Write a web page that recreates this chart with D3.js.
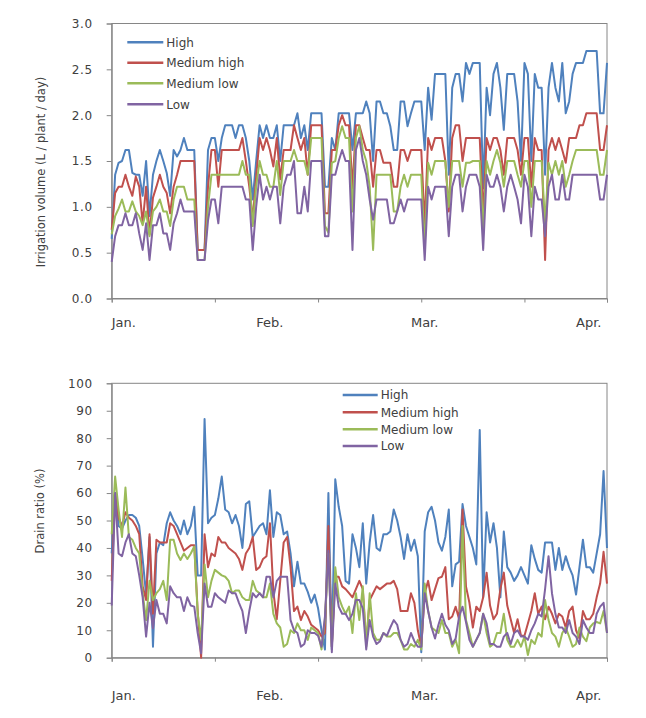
<!DOCTYPE html>
<html>
<head>
<meta charset="utf-8">
<script src="https://cdn.jsdelivr.net/npm/d3@7"></script>
<style>
  html, body { margin: 0; padding: 0; background: #fff; }
  svg { display: block; }
  text { font-family: "DejaVu Sans", sans-serif; fill: #404040; }
</style>
</head>
<body>
<svg id="chart" width="646" height="718"></svg>
<script>
// ---------- DATA ----------
const seriesNames = ["High", "Medium high", "Medium low", "Low"];
const monthLabels = ["Jan.", "Feb.", "Mar.", "Apr."];
const monthAt = [0, 42, 87, 135];          // category index where each month label starts
const categoryTicks = [0, 30, 60, 90, 120, 144];
const irrTicks = [0, 0.5, 1.0, 1.5, 2.0, 2.5, 3.0];
const drainTicks = [0, 10, 20, 30, 40, 50, 60, 70, 80, 90, 100];

// Irrigation volume (L / plant / day)
const irrHigh = [
 0.65,1.35,1.48,1.5,1.62,1.62,1.37,1.35,1.35,1.12,
 1.5,0.9,1.35,1.5,1.62,1.5,1.37,1.12,1.62,1.55,
 1.62,1.75,1.62,1.62,1.62,0.53,0.53,0.53,1.62,1.75,
 1.75,1.5,1.75,1.89,1.89,1.89,1.75,1.89,1.89,1.75,
 1.5,1.08,1.5,1.89,1.75,1.89,1.75,1.75,1.89,1.5,
 1.89,1.89,1.89,1.89,2.02,1.75,1.89,1.62,2.02,2.02,
 2.02,2.02,1.22,1.22,1.75,1.62,2.02,2.02,2.02,2.02,
 1.62,2.02,2.02,2.02,2.15,2.02,1.5,2.15,2.15,2.02,
 2.02,1.88,1.62,1.62,2.15,2.15,1.88,2.02,2.15,2.15,
 2.15,1.62,2.3,1.95,2.45,2.45,2.45,2.45,1.35,2.3,
 2.45,2.45,2.15,2.57,2.45,2.57,2.57,2.57,1.2,2.3,
 2.0,2.45,2.57,2.3,1.84,2.45,2.45,2.45,2.15,1.5,
 2.57,2.45,1.5,2.45,2.3,2.3,1.35,2.3,2.57,2.3,
 2.15,2.57,2.02,2.15,2.45,2.57,2.57,2.57,2.7,2.7,
 2.7,2.7,2.02,2.02,2.57];
const irrMedHigh = [
 0.75,1.15,1.22,1.22,1.35,1.22,1.12,1.33,1.22,0.82,
 1.22,0.7,1.1,1.22,1.35,1.22,1.15,0.93,1.22,1.35,
 1.5,1.5,1.5,1.5,1.5,0.53,0.53,0.53,1.22,1.62,
 1.62,1.22,1.62,1.62,1.62,1.62,1.62,1.62,1.75,1.5,
 1.22,0.86,1.33,1.75,1.62,1.75,1.62,1.44,1.75,1.3,
 1.62,1.62,1.62,1.89,1.75,1.62,1.75,1.35,1.89,1.89,
 1.89,1.89,0.93,0.93,1.62,1.62,1.89,2.0,1.89,1.89,
 1.2,1.89,1.89,1.75,1.62,1.62,1.22,1.62,1.62,1.48,
 1.48,1.48,1.22,1.22,1.62,1.62,1.5,1.62,1.62,1.62,
 1.62,0.8,1.75,1.62,1.75,1.75,1.75,1.5,0.95,1.75,
 1.89,1.89,1.5,1.75,1.75,1.75,1.75,1.75,0.9,1.75,
 1.62,1.75,1.75,1.62,1.35,1.75,1.75,1.75,1.62,1.35,
 1.75,1.75,1.22,1.75,1.62,1.62,0.42,1.62,1.75,1.62,
 1.75,1.62,1.48,1.75,1.75,1.75,1.89,1.89,2.02,2.02,
 2.02,2.02,1.62,1.62,1.89];
const irrMedLow = [
 0.7,0.9,0.98,1.08,0.95,0.95,1.06,0.95,0.9,0.8,
 0.95,0.68,0.95,1.0,1.08,0.95,0.95,0.79,1.08,1.22,
 1.22,1.22,1.08,1.08,1.08,0.42,0.42,0.42,1.0,1.35,
 1.35,1.35,1.35,1.35,1.35,1.35,1.35,1.35,1.5,1.35,
 1.35,0.79,1.22,1.5,1.35,1.35,1.22,1.22,1.5,1.13,
 1.5,1.5,1.5,1.62,1.5,1.5,1.5,1.35,1.75,1.75,
 1.75,1.75,0.79,0.72,1.48,1.5,1.75,1.88,1.75,1.75,
 0.95,1.75,1.88,1.62,1.5,1.22,0.53,1.35,1.35,1.35,
 1.35,1.35,0.95,0.95,1.22,1.35,1.22,1.35,1.35,1.35,
 1.35,0.55,1.48,1.35,1.5,1.5,1.5,1.5,1.0,1.5,
 1.5,1.5,1.22,1.48,1.48,1.5,1.5,1.5,0.75,1.5,
 1.35,1.5,1.62,1.48,1.22,1.5,1.5,1.5,1.35,1.22,
 1.5,1.5,1.0,1.5,1.5,1.5,0.8,1.48,1.35,1.5,
 1.35,1.5,1.22,1.35,1.5,1.62,1.62,1.62,1.62,1.62,
 1.62,1.62,1.35,1.35,1.62];
const irrLow = [
 0.4,0.68,0.8,0.8,0.93,0.8,0.8,0.93,0.71,0.53,
 0.82,0.42,0.8,0.8,0.93,0.71,0.71,0.53,0.82,0.93,
 1.08,0.95,0.95,0.95,0.95,0.42,0.42,0.42,0.85,1.08,
 1.08,0.82,1.22,1.22,1.22,1.22,1.22,1.22,1.22,1.08,
 1.08,0.53,1.0,1.35,1.08,1.22,1.08,1.22,1.22,0.82,
 1.22,1.35,1.35,1.5,0.93,0.93,1.22,0.95,1.5,1.5,
 1.5,1.5,0.68,0.68,1.35,1.35,1.5,1.62,1.5,1.5,
 0.53,1.62,1.75,1.5,1.35,1.08,0.86,1.08,1.08,1.08,
 1.08,0.82,0.82,0.95,1.08,0.95,1.08,1.08,1.08,1.08,
 1.08,0.42,1.22,1.08,1.22,1.22,1.22,1.22,0.68,1.22,
 1.35,1.35,0.95,1.22,1.35,1.35,1.35,1.22,0.53,1.35,
 1.22,1.22,1.35,1.22,0.95,1.22,1.35,1.22,1.08,0.82,
 1.35,1.22,0.68,1.22,1.08,1.08,0.68,1.22,1.35,1.08,
 1.08,1.35,1.08,1.08,1.35,1.35,1.35,1.35,1.35,1.35,
 1.35,1.35,1.08,1.08,1.35];

// Drain ratio (%)
const drainHigh = [
 38,60,48,47,50,52,52,51,48,36,
 23,44,4,38,42,41,49,53,50,48,
 45,50,45,48,55,30,30,87,49,51,
 52,58,66,54,53,49,52,48,40,56,
 57,44,46,48,49,45,61,44,53,52,
 45,46,38,26,35,27,27,24,20,23,
 18,10,3,60,3,65,55,48,28,27,
 45,40,33,49,27,42,52,40,39,45,
 45,46,54,50,44,36,45,39,43,37,
 2,46,53,55,50,42,39,44,54,26,
 34,35,56,48,44,40,34,83,22,53,
 42,49,40,22,46,33,31,28,30,33,
 30,27,41,36,32,31,42,42,42,32,
 40,32,37,33,30,23,33,43,33,33,
 31,38,45,68,40];
const drainMedHigh = [
 28,60,51,48,53,51,50,48,45,26,
 21,45,16,43,42,42,42,49,48,45,
 42,39,40,41,41,17,0,45,33,38,
 37,44,42,42,40,39,38,36,32,38,
 40,44,32,33,36,37,49,24,14,28,
 42,44,33,17,18.6,13.7,17,15,12,11,
 10,7.7,9,48,4,29.5,29.5,26,25,23.5,
 22,25,28,25,5,21,23.5,26,25,26,
 27,27,28,25,17,17,17,23.5,20,10,
 4,23.5,28,21,25,29,29.5,33,14,15,
 18.6,14,54,26,20,11,18.6,17,22,31,
 19,14,16,25,31,19,14,9,14,8,
 8,12.5,17,23.5,16,18.6,14,18.6,16,12.5,
 16,15,11,17,18.6,10,7,17,14,14,
 16,22,27,38.6,27];
const drainMedLow = [
 45,66,54,44,62,44,43,40,38,23.5,
 13.7,28,21,23.5,25,28,21,43,43,38,
 35.6,38,36,38,40.5,16,6.5,34,22,28,
 32,31,30,29.5,28,23.5,24.5,24.5,22,21,
 21,28,24.5,23.5,22,22,27,16,12.5,11,
 4,5,10,9,12.5,10,10,6.5,11,10,
 9,3,14,38,4,33,22,18.6,16,18.6,
 9,23.5,13.7,26,4,23.5,9,6.5,6.5,9,
 7.7,7.7,9,9,6.5,3,3,5,4,6.5,
 3,27,17,11,10,9,13.7,9,9,4,
 6.5,1.6,48,13.7,9,4,6.5,9,16,9,
 4,5,9,9,16,6.5,4,4,6.5,4,
 7.7,1,6.5,5,9,7.7,21,13.7,9,7.7,
 4,9,11,7.7,4,5,11,7.7,6,11,
 12.5,13,12.5,17,9];
const drainLow = [
 19,60,38,37,42,45,38,37,30,22,
 7.7,20,10.7,21,16,16,12.5,26,23.5,22,
 22,17,22,19,18.6,9,1.6,27,18.6,18.6,
 23.5,22,21,20,24.5,23.5,23.5,20,17,9,
 17,23.5,22,23.5,22,29.5,29.5,22,28,29.5,
 29.5,29.5,13.7,10,9,4,5,10,9,9,
 8,4,15,39,2,27,18.6,16,16,13.7,
 16,21,21,18,3,13.7,7.7,5,6,9,
 8,11,13.7,12,6.5,4,5,9,6,4,
 4,23.5,17,11,7,12,16,12,10,5,
 7,15,18.6,13,6.5,4,6.5,9,16,12.5,
 5,5,4,4,7.7,9,5,9,10,7.7,
 7.7,6.5,10,12.5,16,15,25,37,23.5,16,
 11,11,9,13.7,9,7.7,5,13.7,11,9,
 9,16,18.6,20,9];

// ---------- STYLE ----------
const colors = ["#4F81BD", "#C0504D", "#9BBB59", "#8064A2"];
const axisGray = "#868686";

const svg = d3.select("#chart");
const x = d3.scaleLinear().domain([0, irrHigh.length - 1]).range([111.7, 607]);

function panel(cfg) {
  const g = svg.append("g");
  const y = d3.scaleLinear().domain([cfg.ticks[0], cfg.ticks[cfg.ticks.length - 1]])
    .range([cfg.bottom, cfg.top]);

  // plot frame
  g.append("rect")
    .attr("x", x.range()[0]).attr("y", cfg.top)
    .attr("width", x.range()[1] - x.range()[0]).attr("height", cfg.bottom - cfg.top)
    .attr("fill", "none").attr("stroke", axisGray).attr("stroke-width", 1);

  // y axis
  const ya = g.append("g").attr("transform", `translate(${x.range()[0]},0)`)
    .call(d3.axisLeft(y).tickValues(cfg.ticks).tickSize(5).tickPadding(14).tickFormat(cfg.fmt));
  ya.select(".domain").attr("stroke", axisGray);
  ya.selectAll(".tick line").attr("stroke", axisGray);
  ya.selectAll(".tick text").attr("font-size", 12).attr("letter-spacing", "0.6px")
    .style("font-family", "'DejaVu Sans', sans-serif").attr("fill", "#404040");

  // x axis
  const xa = g.append("g").attr("transform", `translate(0,${cfg.bottom})`)
    .call(d3.axisBottom(x).tickValues(categoryTicks).tickSize(4).tickFormat(""));
  xa.select(".domain").attr("stroke", axisGray);
  xa.selectAll(".tick line").attr("stroke", axisGray);

  // month labels
  g.selectAll("text.month").data(monthLabels).join("text")
    .attr("class", "month")
    .attr("x", (d, i) => x(monthAt[i]))
    .attr("y", cfg.labelY)
    .attr("text-anchor", "start")
    .attr("font-size", 13)
    .text(d => d);

  // y title
  g.append("text")
    .attr("transform", `translate(${cfg.titleX},${cfg.titleY}) rotate(-90)`)
    .attr("text-anchor", "middle")
    .attr("font-size", cfg.titleSize)
    .text(cfg.title);

  // lines
  const line = d3.line().x((d, i) => x(i)).y(d => y(d));
  cfg.series.forEach((s, k) => {
    g.append("path").datum(s)
      .attr("fill", "none").attr("stroke", colors[k])
      .attr("stroke-width", 2).attr("stroke-linejoin", "round")
      .attr("d", line);
  });

  // legend
  const lg = g.append("g");
  seriesNames.forEach((name, k) => {
    const yy = cfg.legendY[k];
    lg.append("line").attr("x1", cfg.legendX).attr("x2", cfg.legendX + cfg.legendLen)
      .attr("y1", yy).attr("y2", yy).attr("stroke", colors[k]).attr("stroke-width", 2.5);
    lg.append("text").attr("x", cfg.legendX + cfg.legendLen + 3).attr("y", yy)
      .attr("dy", "0.35em").attr("font-size", 12).text(name);
  });
}

panel({
  top: 23.5, bottom: 298.5, ticks: irrTicks, fmt: d3.format(".1f"),
  series: [irrHigh, irrMedHigh, irrMedLow, irrLow],
  labelY: 327, title: "Irrigation volume (L / plant / day)", titleX: 45, titleY: 172, titleSize: 11.5,
  legendX: 127.3, legendLen: 36, legendY: [42.3, 62.7, 83.3, 104.3]
});

panel({
  top: 383.3, bottom: 657.7, ticks: drainTicks, fmt: d3.format("d"),
  series: [drainHigh, drainMedHigh, drainMedLow, drainLow],
  labelY: 700, title: "Drain ratio (%)", titleX: 44, titleY: 511, titleSize: 11.5,
  legendX: 342.7, legendLen: 35, legendY: [395, 412.3, 429.3, 446]
});
</script>
</body>
</html>
